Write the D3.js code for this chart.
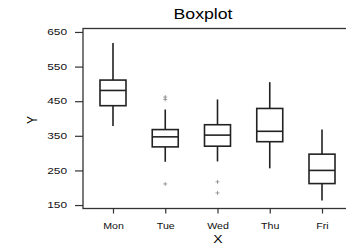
<!DOCTYPE html>
<html>
<head>
<meta charset="utf-8">
<script src="https://cdn.jsdelivr.net/npm/d3@7"></script>
<style>
  body { margin: 0; background: #fff; }
  svg { display: block; font-family: "Liberation Sans", Arial, sans-serif; }
</style>
</head>
<body>
<div id="chart"></div>
<script>
const days = ['Mon', 'Tue', 'Wed', 'Thu', 'Fri'];
const lowWhisker = [378, 275, 276, 256, 163];
const q1 = [437, 318, 320, 333, 212];
const median = [481, 347, 352, 363, 250];
const q3 = [511, 368, 382, 429, 297];
const highWhisker = [618, 426, 455, 505, 368];
const outliers = [[], [462, 455, 211], [217, 185], [], []];
const yTicks = [150, 250, 350, 450, 550, 650];

const width = 346, height = 245;
const plotLeft = 83, plotTop = 28.5, plotBottom = 208.5;
// the reference text is a bit stretched sideways
const tickStretch = 1.4;

const svg = d3.select('#chart').append('svg')
  .attr('width', width)
  .attr('height', height);

const x = d3.scalePoint()
  .domain(days)
  .range([plotLeft, 352])
  .padding(0.574);

const y = d3.scaleLinear()
  .domain([140, 660])
  .range([plotBottom, plotTop]);

// frame (right edge runs off the picture)
svg.append('rect')
  .attr('x', plotLeft).attr('y', plotTop)
  .attr('width', 300).attr('height', plotBottom - plotTop)
  .attr('fill', 'none')
  .attr('stroke', '#333')
  .attr('stroke-width', 1.3);

const yAxis = svg.append('g')
  .attr('transform', `translate(${plotLeft},0)`)
  .call(d3.axisLeft(y).tickValues(yTicks).tickSize(8).tickPadding(8));
yAxis.select('.domain').remove();
yAxis.selectAll('text')
  .attr('x', -16 / tickStretch)
  .attr('transform', `scale(${tickStretch},1)`);

const xAxis = svg.append('g')
  .attr('transform', `translate(0,${plotBottom})`)
  .call(d3.axisBottom(x).tickSize(5).tickPadding(9));
xAxis.select('.domain').remove();
xAxis.selectAll('text')
  .attr('transform', 'scale(1.25,1)');

svg.selectAll('.tick line').attr('stroke', '#333').attr('stroke-width', 1.2);
svg.selectAll('.tick text').attr('fill', '#111').style('font-size', '8.5px');

svg.append('text')
  .attr('transform', 'translate(203,18.5) scale(1.18,1)')
  .attr('text-anchor', 'middle')
  .style('font-size', '15px')
  .text('Boxplot');

svg.append('text')
  .attr('transform', 'translate(218,243) scale(1.27,1)')
  .attr('text-anchor', 'middle')
  .style('font-size', '11px')
  .text('X');

svg.append('text')
  .attr('transform', 'translate(37,120) rotate(-90) scale(1,1.25)')
  .attr('text-anchor', 'middle')
  .style('font-size', '12px')
  .text('Y');

const boxW = 26;
const boxes = svg.append('g').selectAll('g')
  .data(days)
  .enter()
  .append('g');

boxes.append('line')
  .attr('x1', d => x(d)).attr('x2', d => x(d))
  .attr('y1', (d, i) => y(highWhisker[i]))
  .attr('y2', (d, i) => y(q3[i]))
  .attr('stroke', '#222').attr('stroke-width', 1.6);

boxes.append('line')
  .attr('x1', d => x(d)).attr('x2', d => x(d))
  .attr('y1', (d, i) => y(q1[i]))
  .attr('y2', (d, i) => y(lowWhisker[i]))
  .attr('stroke', '#222').attr('stroke-width', 1.6);

boxes.append('rect')
  .attr('x', d => x(d) - boxW / 2)
  .attr('y', (d, i) => y(q3[i]))
  .attr('width', boxW)
  .attr('height', (d, i) => y(q1[i]) - y(q3[i]))
  .attr('fill', 'none')
  .attr('stroke', '#222').attr('stroke-width', 1.6);

boxes.append('line')
  .attr('x1', d => x(d) - boxW / 2).attr('x2', d => x(d) + boxW / 2)
  .attr('y1', (d, i) => y(median[i]))
  .attr('y2', (d, i) => y(median[i]))
  .attr('stroke', '#222').attr('stroke-width', 1.6);

// outliers as small grey crosses
const pts = [];
days.forEach((d, i) => outliers[i].forEach(v => pts.push({ day: d, v })));
svg.append('g').selectAll('path')
  .data(pts)
  .enter()
  .append('path')
  .attr('transform', p => `translate(${x(p.day)},${y(p.v)})`)
  .attr('d', 'M-2,0H2M0,-2V2')
  .attr('stroke', '#888')
  .attr('stroke-width', 0.8);
</script>
</body>
</html>
